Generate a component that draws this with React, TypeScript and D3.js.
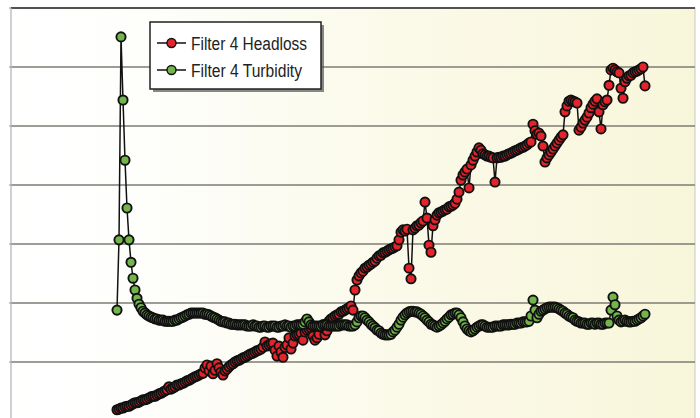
import * as d3 from 'd3'

// Filter 4 run: one reading every sample step, both series on the same left axis
const headloss = [
  0.19, 0.2, 0.22, 0.22, 0.24, 0.25, 0.25, 0.27, 0.29, 0.31,
  0.31, 0.32, 0.34, 0.36, 0.36, 0.37, 0.39, 0.41, 0.42, 0.42,
  0.44, 0.46, 0.47, 0.49, 0.51, 0.53, 0.58, 0.54, 0.56, 0.58,
  0.61, 0.61, 0.63, 0.64, 0.66, 0.68, 0.69, 0.71, 0.73, 0.75,
  0.76, 0.78, 0.8, 0.81, 0.9, 0.95, 0.85, 0.93, 0.8, 0.86,
  0.97, 0.9, 0.83, 0.78, 0.85, 0.88, 0.92, 0.95, 0.97, 1.0,
  1.02, 1.03, 1.05, 1.07, 1.08, 1.1, 1.12, 1.14, 1.15, 1.17,
  1.19, 1.2, 1.22, 1.25, 1.34, 1.27, 1.29, 1.31, 1.32, 1.2,
  1.1, 1.27, 1.17, 1.08, 1.25, 1.29, 1.41, 1.22, 1.32, 1.44,
  1.46, 1.47, 1.49, 1.37, 1.51, 1.54, 1.56, 1.58, 1.44, 1.37,
  1.41, 1.47, 1.59, 1.63, 1.46, 1.53, 1.69, 1.73, 1.75, 1.78,
  1.8, 1.81, 1.85, 1.86, 1.88, 1.9, 1.92, 1.95, 1.88, 2.22,
  2.39, 2.46, 2.51, 2.54, 2.59, 2.61, 2.64, 2.66, 2.69, 2.71,
  2.76, 2.8, 2.81, 2.85, 2.86, 2.88, 2.9, 2.92, 2.93, 2.95,
  2.97, 3.07, 3.2, 3.24, 3.22, 3.25, 2.59, 2.41, 3.24, 3.27,
  3.31, 3.32, 3.36, 3.39, 3.71, 3.44, 2.98, 2.86, 3.31, 3.41,
  3.49, 3.53, 3.54, 3.56, 3.58, 3.59, 3.63, 3.64, 3.66, 3.69,
  3.76, 3.88, 4.08, 4.17, 4.22, 4.27, 3.95, 4.34, 4.42, 4.49,
  4.56, 4.63, 4.59, 4.53, 4.51, 4.49, 4.49, 4.47, 4.46, 4.05,
  4.46, 4.47, 4.47, 4.49, 4.49, 4.51, 4.53, 4.54, 4.56, 4.58,
  4.59, 4.61, 4.63, 4.64, 4.66, 4.68, 4.71, 4.73, 5.03, 4.92,
  4.86, 4.88, 4.83, 4.66, 4.39, 4.46, 4.51, 4.56, 4.61, 4.66,
  4.71, 4.76, 4.81, 4.85, 5.24, 5.34, 5.42, 5.44, 5.42, 5.41,
  5.39, 4.93, 4.98, 5.05, 5.1, 5.15, 5.22, 5.31, 5.37, 5.42,
  5.46, 5.24, 4.95, 5.36, 5.41, 5.44, 5.69, 5.95, 5.98, 5.95,
  5.92, 5.9, 5.64, 5.47, 5.75, 5.81, 5.85, 5.86, 5.9, 5.92,
  5.93, 5.95, 5.97, 6.0, 5.68,
]

const turbidity = [
  1.88, 3.07, 6.51, 5.44, 4.42, 3.61, 3.07, 2.69, 2.42, 2.22,
  2.08, 1.98, 1.92, 1.86, 1.83, 1.8, 1.78, 1.76, 1.75, 1.73,
  1.73, 1.71, 1.71, 1.71, 1.69, 1.69, 1.69, 1.69, 1.69, 1.71,
  1.71, 1.73, 1.75, 1.76, 1.78, 1.8, 1.81, 1.83, 1.83, 1.83,
  1.83, 1.83, 1.83, 1.83, 1.81, 1.81, 1.8, 1.78, 1.76, 1.75,
  1.73, 1.71, 1.69, 1.68, 1.68, 1.66, 1.66, 1.64, 1.64, 1.64,
  1.63, 1.63, 1.63, 1.63, 1.63, 1.61, 1.61, 1.61, 1.63, 1.61,
  1.61, 1.59, 1.59, 1.61, 1.61, 1.59, 1.59, 1.61, 1.61, 1.61,
  1.59, 1.59, 1.61, 1.61, 1.63, 1.61, 1.61, 1.59, 1.61, 1.61,
  1.63, 1.63, 1.63, 1.64, 1.68, 1.73, 1.68, 1.63, 1.61, 1.61,
  1.61, 1.61, 1.61, 1.63, 1.63, 1.63, 1.61, 1.61, 1.61, 1.61,
  1.61, 1.61, 1.63, 1.63, 1.63, 1.63, 1.61, 1.61, 1.61, 1.63,
  1.68, 1.75, 1.78, 1.78, 1.75, 1.71, 1.68, 1.64, 1.61, 1.58,
  1.54, 1.53, 1.49, 1.47, 1.46, 1.46, 1.46, 1.47, 1.51, 1.54,
  1.59, 1.64, 1.71, 1.76, 1.8, 1.83, 1.85, 1.86, 1.86, 1.85,
  1.85, 1.83, 1.81, 1.78, 1.75, 1.71, 1.68, 1.64, 1.63, 1.61,
  1.59, 1.61, 1.63, 1.66, 1.69, 1.73, 1.76, 1.8, 1.81, 1.83,
  1.83, 1.8, 1.75, 1.68, 1.61, 1.56, 1.53, 1.51, 1.53, 1.56,
  1.59, 1.61, 1.63, 1.63, 1.61, 1.59, 1.59, 1.59, 1.59, 1.61,
  1.61, 1.61, 1.61, 1.63, 1.63, 1.63, 1.63, 1.64, 1.64, 1.64,
  1.66, 1.66, 1.66, 1.68, 1.68, 1.68, 1.69, 1.78, 2.05, 1.88,
  1.75, 1.81, 1.86, 1.88, 1.9, 1.92, 1.93, 1.93, 1.93, 1.93,
  1.92, 1.9, 1.88, 1.86, 1.83, 1.81, 1.78, 1.76, 1.75, 1.71,
  1.69, 1.68, 1.66, 1.66, 1.66, 1.64, 1.64, 1.66, 1.66, 1.64,
  1.66, 1.66, 1.64, 1.64, 1.66, 1.66, 1.66, 1.88, 2.1, 1.97,
  1.78, 1.71, 1.68, 1.69, 1.71, 1.69, 1.68, 1.68, 1.69, 1.69,
  1.71, 1.73, 1.75, 1.78, 1.81,
]

const gridValues = [1, 2, 3, 4, 5, 6]
const seriesNames = ['Filter 4 Headloss', 'Filter 4 Turbidity']
const seriesColors = ['#e4242b', '#72b54a']
const legendTextWidths = [116, 111]

const width = 700
const height = 418
const plot = { left: 11, right: 695, top: 8, bottom: 421 }

export default function App() {
  const x = d3.scaleLinear().domain([-53, 289]).range([plot.left, plot.right])
  const y = d3.scaleLinear().domain([0, 7]).range([plot.bottom, plot.top])

  const line = d3
    .line<number>()
    .x((_, i) => x(i))
    .y((d) => y(d))

  const series = [headloss, turbidity]

  return (
    <div style={{ position: 'absolute', left: 0, top: 0 }}>
      <svg width={width} height={height} style={{ display: 'block' }}>
        <defs>
          <linearGradient id="bg" x1="0" x2="1" y1="0" y2="0">
            <stop offset="0%" stopColor="#ffffff" />
            <stop offset="18%" stopColor="#fefefc" />
            <stop offset="55%" stopColor="#fbfaea" />
            <stop offset="100%" stopColor="#f8f6da" />
          </linearGradient>
        </defs>
        <rect width={width} height={height} fill="#fff" />
        <rect
          x={plot.left}
          y={plot.top}
          width={plot.right - plot.left}
          height={plot.bottom - plot.top}
          fill="url(#bg)"
          stroke="#c8c8c0"
          strokeWidth={1}
        />

        {gridValues.map((v) => (
          <line key={v} x1={plot.left} x2={plot.right} y1={y(v)} y2={y(v)} stroke="#7c7c74" strokeWidth={1.5} />
        ))}
        <line x1={plot.left} x2={plot.right} y1={y(7)} y2={y(7)} stroke="#222" strokeWidth={1.5} />
        <line x1={plot.left} x2={plot.left} y1={plot.top} y2={height} stroke="#bdbdbd" strokeWidth={1} />
        {[...gridValues, 7].map((v) => (
          <line key={v} x1={plot.left - 2} x2={plot.left} y1={y(v)} y2={y(v)} stroke="#999" strokeWidth={1} />
        ))}

        {series.map((data, s) => (
          <g key={s}>
            <path d={line(data) ?? ''} fill="none" stroke="#111" strokeWidth={1.5} />
            {data.map((d, i) => (
              <circle key={i} cx={x(i)} cy={y(d)} r={4.6} fill={seriesColors[s]} stroke="#111" strokeWidth={1.9} />
            ))}
          </g>
        ))}

        <g>
          <rect x={153} y={25} width={171} height={67} fill="#555" opacity={0.7} />
          <rect x={150} y={22} width={171} height={67} fill="#fff" stroke="#222" strokeWidth={1.5} />
          {seriesNames.map((name, s) => {
            const cy = 43 + s * 27
            return (
              <g key={name}>
                <line x1={157} x2={186} y1={cy} y2={cy} stroke="#111" strokeWidth={1.5} />
                <circle cx={171.5} cy={cy} r={4.5} fill={seriesColors[s]} stroke="#111" strokeWidth={1.4} />
                <text
                  x={191}
                  y={cy + 6.5}
                  fontFamily="'Liberation Sans', Arial, sans-serif"
                  fontSize={18}
                  textLength={legendTextWidths[s]}
                  lengthAdjust="spacingAndGlyphs"
                  fill="#222"
                >
                  {name}
                </text>
              </g>
            )
          })}
        </g>
      </svg>
    </div>
  )
}
